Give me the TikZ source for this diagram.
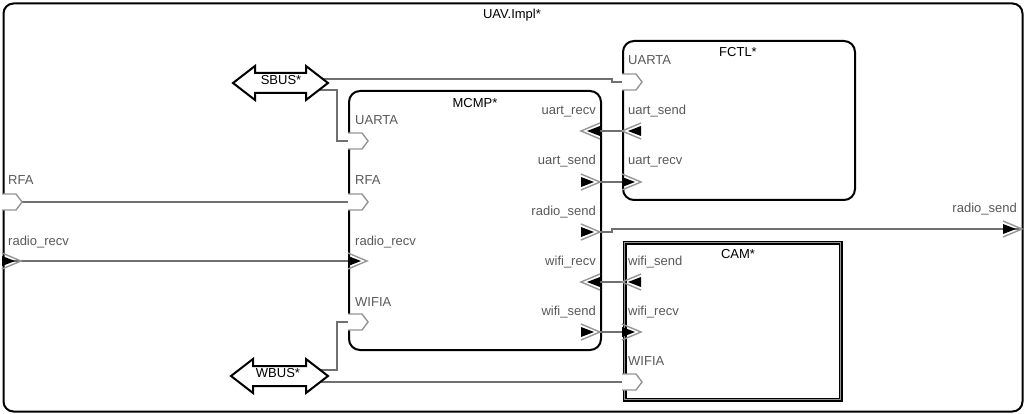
\documentclass[tikz,border=0pt]{standalone}
\usepackage{fontspec}
\setmainfont{Liberation Sans}
\definecolor{lbl}{RGB}{88,88,88}
\definecolor{wirec}{RGB}{112,112,112}
\definecolor{pgray}{RGB}{150,150,150}
\tikzset{
  comp/.style={draw=black, line width=2pt, rounded corners=11pt, anchor=north west, inner sep=0pt},
  ttl/.style={font=\fontsize{13}{15}\selectfont, anchor=base, text=black, inner sep=0pt},
  plbl/.style={font=\fontsize{13}{15}\selectfont, text=lbl, inner sep=0pt},
  lw/.style={plbl, anchor=base west},
  le/.style={plbl, anchor=base east},
  wire/.style={draw=wirec, line width=1.8pt},
  pout/.style={draw=pgray, line width=1.4pt},
  busline/.style={draw=black, line width=2pt, fill=white, line join=miter},
  buslbl/.style={font=\fontsize{13}{15}\selectfont, text=black, inner sep=0pt}
}
\newcommand\dataport[1]{\draw[pout, fill=white] (#1) ++(0,-8) -- ++(14,0) -- ++(6,8) -- ++(-6,8) -- ++(-14,0);}
\newcommand\evport[2]{%
  \fill[black] (#1) ++(0,-5) -- ++({13*#2},5) -- ++({-13*#2},5) -- cycle;
  \draw[pout] (#1) ++(0,-8) -- ++({19*#2},8) -- ++({-19*#2},8);}
% bus outline: #1 left tip coordinate, #2 total length
\newcommand\busshape[2]{%
  \path[busline] (#1) -- ++(22,-17) -- ++(0,7) -- ++({#2-44},0) -- ++(0,-7) -- ++(22,17)
     -- ++(-22,17) -- ++(0,-7) -- ++({44-#2},0) -- ++(0,7) -- cycle;}
\begin{document}
\begin{tikzpicture}[x=1pt,y=-1pt]
\useasboundingbox (0,0) rectangle (1025,414);
% components
\node[comp, rounded corners=10pt, minimum width=1019pt, minimum height=408pt] (uav) at (2.5,2.5) {};
\node[ttl] (uavt) at (512,19) {UAV.Impl*};
\node[comp, minimum width=232pt, minimum height=159pt] (fctl) at (622,40) {};
\node[ttl] (fctlt) at (738,57) {FCTL*};
\node[comp, minimum width=252pt, minimum height=259pt] (mcmp) at (348,90) {};
\node[ttl] (mcmpt) at (475,108) {MCMP*};
\node[draw=black, double=pgray, double distance=1.6pt, line width=1.2pt, anchor=north west, inner sep=0pt,
      minimum width=216pt, minimum height=157pt] (cam) at (624,242) {};
\node[ttl] (camt) at (738,258) {CAM*};
% port points
\coordinate (uav-rfa) at (2,202);
\coordinate (uav-rr) at (2,261);
\coordinate (uav-rs) at (1022,229);
\coordinate (m-uarta) at (348,141);
\coordinate (m-rfa) at (348,202);
\coordinate (m-rr) at (348,261);
\coordinate (m-wifia) at (348,322);
\coordinate (m-ur) at (600,131);
\coordinate (m-us) at (600,182);
\coordinate (m-rs) at (600,232);
\coordinate (m-wr) at (600,282);
\coordinate (m-ws) at (600,332);
\coordinate (f-uarta) at (622,82);
\coordinate (f-us) at (622,131);
\coordinate (f-ur) at (622,182);
\coordinate (c-ws) at (622,282);
\coordinate (c-wr) at (622,332);
\coordinate (c-wifia) at (622,382);
\coordinate (sbus-tip) at (233,83);
\coordinate (wbus-tip) at (231,376);
\coordinate (sbus-a) at (318,79);
\coordinate (sbus-b) at (316,90);
\coordinate (wbus-a) at (316,370);
\coordinate (wbus-b) at (316,382);
% connectors
\draw[wire] (uav-rfa) -- (m-rfa);
\draw[wire] (uav-rr) -- (m-rr);
\draw[wire] (m-ur) -- (f-us);
\draw[wire] (m-us) -- (f-ur);
\draw[wire] (m-wr) -- (c-ws);
\draw[wire] (m-ws) -- (c-wr);
\draw[wire] (m-rs) -- ++(12,0) -- ++(0,-3) -- (uav-rs);
\draw[wire] (sbus-a) -- ++(294,0) |- (f-uarta);
\draw[wire] (sbus-b) -- ++(21,0) |- (m-uarta);
\draw[wire] (wbus-a) -- ++(21,0) |- (m-wifia);
\draw[wire] (wbus-b) -- (c-wifia);
% buses
\busshape{sbus-tip}{95}
\node[buslbl] (sbus) at (281,80) {SBUS*};
\busshape{wbus-tip}{97}
\node[buslbl] (wbus) at (278,373) {WBUS*};
% ports
\dataport{uav-rfa}
\evport{uav-rr}{1}
\evport{1003,229}{1}
\dataport{m-uarta}
\dataport{m-rfa}
\evport{m-rr}{1}
\dataport{m-wifia}
\evport{m-ur}{-1}
\evport{581,182}{1}
\evport{581,232}{1}
\evport{m-wr}{-1}
\evport{581,332}{1}
\dataport{f-uarta}
\evport{641,131}{-1}
\evport{f-ur}{1}
\evport{641,282}{-1}
\evport{c-wr}{1}
\dataport{c-wifia}
% labels
\node[lw] (l-uav-rfa) at (8,185) {RFA};
\node[lw] (l-uav-rr) at (8,245) {radio\_recv};
\node[le] (l-uav-rs) at (1017,212) {radio\_send};
\node[lw] (l-m-uarta) at (355,125) {UARTA};
\node[lw] (l-m-rfa) at (355,185) {RFA};
\node[lw] (l-m-rr) at (355,245) {radio\_recv};
\node[lw] (l-m-wifia) at (355,306) {WIFIA};
\node[le] (l-m-ur) at (596,115) {uart\_recv};
\node[le] (l-m-us) at (596,165) {uart\_send};
\node[le] (l-m-rs) at (596,215) {radio\_send};
\node[le] (l-m-wr) at (596,265) {wifi\_recv};
\node[le] (l-m-ws) at (596,315) {wifi\_send};
\node[lw] (l-f-uarta) at (628,65) {UARTA};
\node[lw] (l-f-us) at (628,115) {uart\_send};
\node[lw] (l-f-ur) at (628,165) {uart\_recv};
\node[lw] (l-c-ws) at (628,265) {wifi\_send};
\node[lw] (l-c-wr) at (628,315) {wifi\_recv};
\node[lw] (l-c-wifia) at (628,365) {WIFIA};
\end{tikzpicture}
\end{document}
